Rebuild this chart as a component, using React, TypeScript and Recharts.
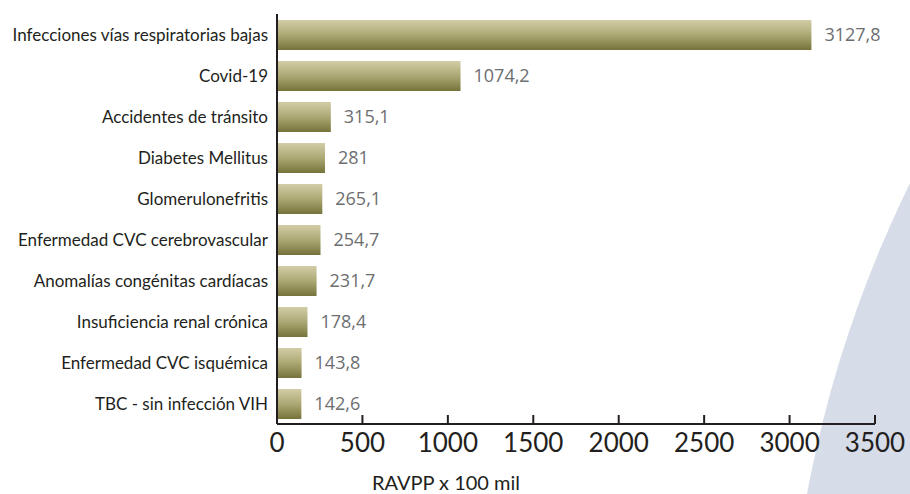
import React from "react";
import {
  BarChart, Bar, XAxis, YAxis, LabelList, Label,
} from "recharts";

// ── Data ────────────────────────────────────────────────────────────────────
const CAUSES = [
  "Infecciones vías respiratorias bajas",
  "Covid-19",
  "Accidentes de tránsito",
  "Diabetes Mellitus",
  "Glomerulonefritis",
  "Enfermedad CVC cerebrovascular",
  "Anomalías congénitas cardíacas",
  "Insuficiencia renal crónica",
  "Enfermedad CVC isquémica",
  "TBC - sin infección VIH",
];
const RAVPP = [3127.8, 1074.2, 315.1, 281, 265.1, 254.7, 231.7, 178.4, 143.8, 142.6];
const X_TICKS = [0, 500, 1000, 1500, 2000, 2500, 3000, 3500];

const data = CAUSES.map((name, i) => ({ name, value: RAVPP[i] }));

// ── Style ───────────────────────────────────────────────────────────────────
const W = 910;
const H = 494;
const INK = "#231f20";
const LABEL_FONT = "Lato, 'Noto Sans', sans-serif";

const fmt = (v: number) => String(v).replace(".", ",");

// x ticks point upward from the axis line
const XTick = (props: any) => {
  const { x, y, payload } = props;
  return (
    <g>
      <line x1={x} x2={x} y1={y - 9} y2={y} stroke={INK} strokeWidth={2} />
      <text
        x={x}
        y={y + 28}
        textAnchor="middle"
        fill={INK}
        fontSize={26}
        fontFamily={LABEL_FONT}
      >
        {payload.value}
      </text>
    </g>
  );
};

export default function App() {
  return (
    <div style={{ position: "absolute", left: 0, top: 0, width: W, height: H, background: "#fff", overflow: "hidden" }}>
      {/* decorative backdrop arc */}
      <svg width={W} height={H} style={{ position: "absolute", left: 0, top: 0 }}>
        <circle cx={1985} cy={712} r={1198} fill="#d6dce8" />
      </svg>
      <div style={{ position: "absolute", left: 0, top: 0 }}>
        <BarChart
          width={W}
          height={H}
          data={data}
          layout="vertical"
          margin={{ top: 14, right: 35, left: 0, bottom: 0 }}
          barSize={30}
        >
          <defs>
            <linearGradient id="olive" x1="0" y1="0" x2="0" y2="1">
              <stop offset="0%" stopColor="#d3cda7" />
              <stop offset="50%" stopColor="#aca874" />
              <stop offset="100%" stopColor="#75733a" />
            </linearGradient>
          </defs>
          <XAxis
            type="number"
            domain={[0, 3500]}
            ticks={X_TICKS}
            interval={0}
            tickSize={0}
            tickMargin={0}
            tickLine={false}
            axisLine={{ stroke: INK, strokeWidth: 2 }}
            tick={<XTick />}
            height={70}
          >
            <Label
              value="RAVPP x 100 mil"
              position="insideBottom"
              offset={4}
              dx={-130}
              fill={INK}
              fontSize={20}
              fontFamily={LABEL_FONT}
            />
          </XAxis>
          <YAxis
            type="category"
            dataKey="name"
            width={277}
            tickLine={false}
            tickSize={0}
            tickMargin={9}
            axisLine={{ stroke: INK, strokeWidth: 2 }}
            tick={{ fill: INK, fontSize: 17, fontFamily: LABEL_FONT }}
            interval={0}
          />
          <Bar dataKey="value" fill="url(#olive)" isAnimationActive={false}>
            <LabelList
              dataKey="value"
              position="right"
              offset={13}
              formatter={(v: any) => fmt(Number(v))}
              fill="#6d6e70"
              fontSize={18}
              fontFamily="'Open Sans', sans-serif"
            />
          </Bar>
        </BarChart>
      </div>
    </div>
  );
}
